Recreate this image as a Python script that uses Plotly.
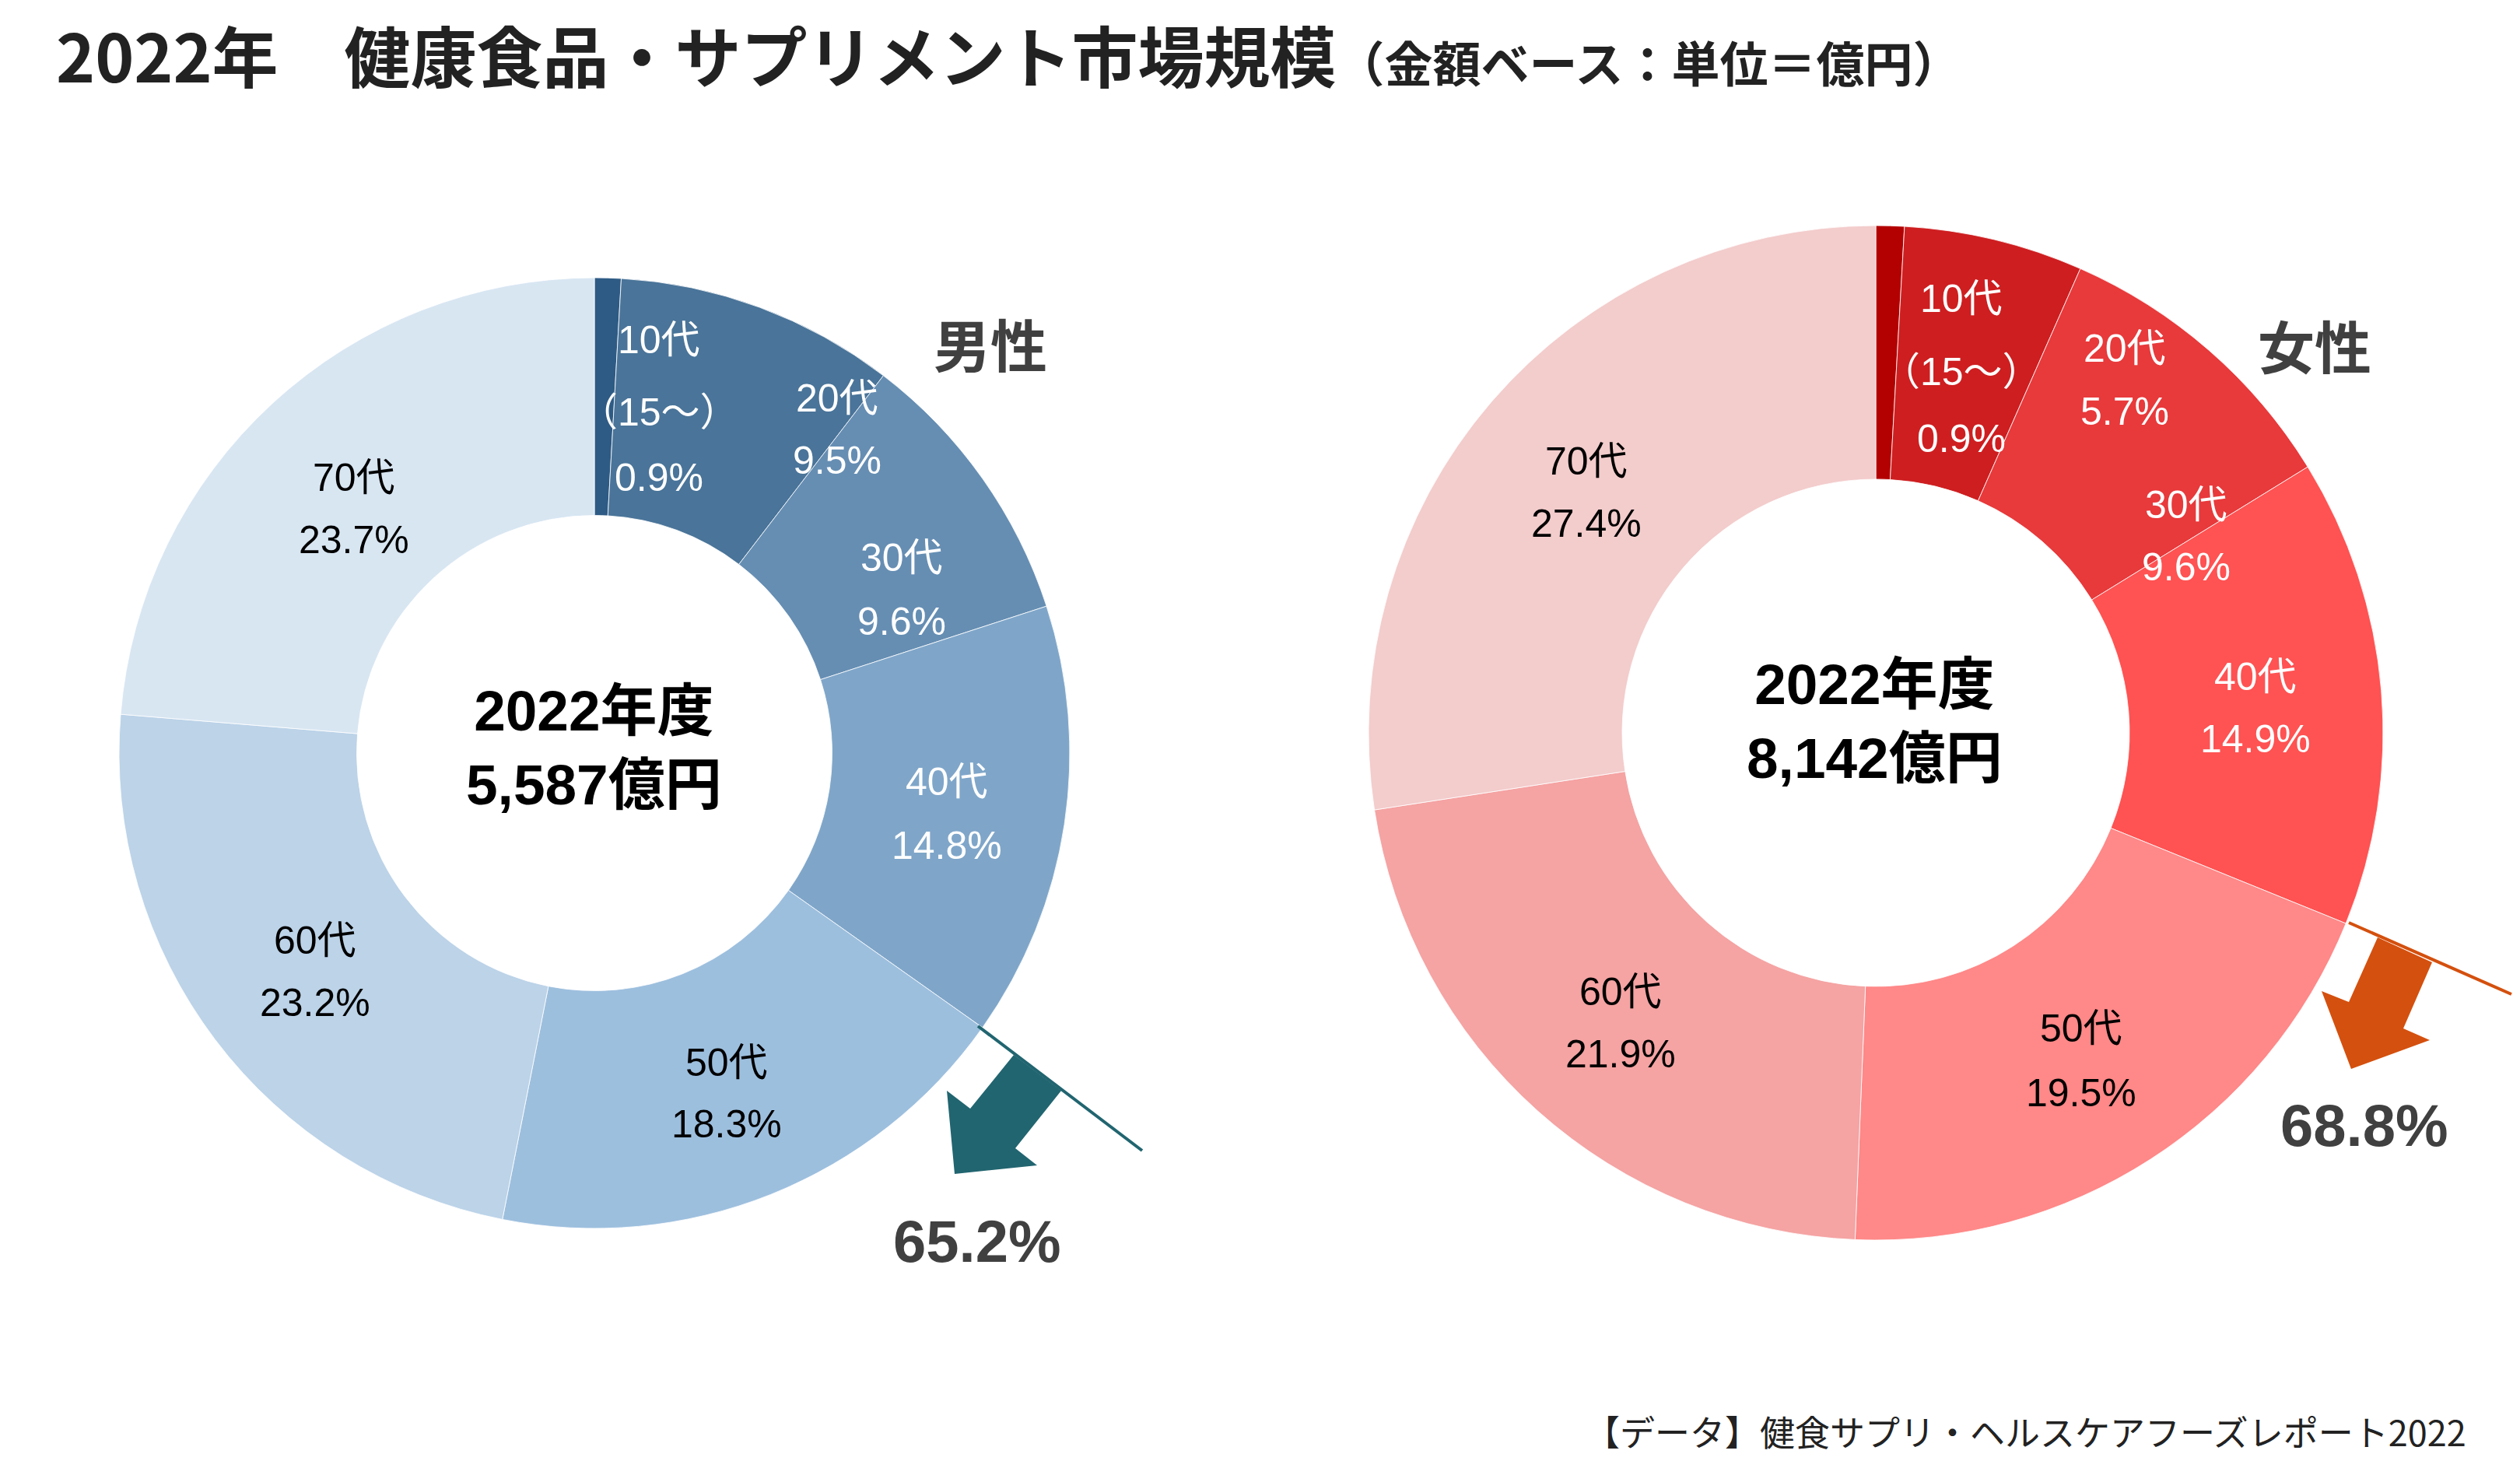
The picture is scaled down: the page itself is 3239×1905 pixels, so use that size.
import plotly.graph_objects as go

W, H = 3239, 1905

# ---- data ----
age_groups = ["10代", "20代", "30代", "40代", "50代", "60代", "70代"]
male_share = [0.9, 9.5, 9.6, 14.8, 18.3, 23.2, 23.7]
female_share = [0.9, 5.7, 9.6, 14.9, 19.5, 21.9, 27.4]
male_total = "5,587億円"
female_total = "8,142億円"
male_50plus = "65.2%"
female_50plus = "68.8%"
year_label = "2022年度"

male_colors = ["#2E5B85", "#4A7499", "#668EB3", "#7FA6C9", "#9DBFDE", "#BCD3E8", "#D8E6F2"]
female_colors = ["#B30000", "#CE1E20", "#E8393B", "#FF5252", "#FF8888", "#F5A3A3", "#F3CCCC"]
label_text_colors = ["white", "white", "white", "white", "black", "black", "black"]


def px(x):
    return x / W


def py(y):
    return 1 - y / H


LBL_FONT = "'Liberation Sans', Arial, 'Noto Sans CJK JP'"
CJK_BOLD = "'Noto Sans CJK JP'"

fig = go.Figure()

# male donut: centre (764, 968), radius 611
fig.add_trace(go.Pie(
    labels=age_groups, values=male_share, sort=False, direction="clockwise",
    rotation=0, hole=0.5, textinfo="none", hoverinfo="none",
    marker=dict(colors=male_colors, line=dict(color="white", width=0.8)),
    domain=dict(x=[px(764 - 611), px(764 + 611)], y=[py(968 + 611), py(968 - 611)]),
    showlegend=False,
))
# female donut: centre (2411, 942), radius 652
fig.add_trace(go.Pie(
    labels=age_groups, values=female_share, sort=False, direction="clockwise",
    rotation=0, hole=0.5, textinfo="none", hoverinfo="none",
    marker=dict(colors=female_colors, line=dict(color="white", width=0.8)),
    domain=dict(x=[px(2411 - 652), px(2411 + 652)], y=[py(942 + 652), py(942 - 652)]),
    showlegend=False,
))

ann = []


def text(x, y, s, size, color="black", family=LBL_FONT, xanchor="center", bold=False):
    if bold:
        s = "<b>" + s + "</b>"
    ann.append(dict(x=px(x), y=py(y), xref="paper", yref="paper", text=s, showarrow=False,
                    xanchor=xanchor, yanchor="middle",
                    font=dict(size=size, color=color, family=family)))


# label positions (pixel) for each age group: (x, y of first line, y of second line)
male_pos = [(847, 437, 614), (1076, 512, 592), (1159, 717, 799), (1217, 1005, 1087),
            (934, 1366, 1445), (405, 1209, 1289), (455, 614, 694)]
female_pos = [(2521, 384, 564), (2731, 448, 529), (2810, 649, 729), (2899, 870, 950),
              (2675, 1322, 1405), (2083, 1275, 1355), (2039, 593, 673)]

for positions, shares in ((male_pos, male_share), (female_pos, female_share)):
    for i, (g, v) in enumerate(zip(age_groups, shares)):
        x, y1, y2 = positions[i]
        c = label_text_colors[i]
        text(x, y1, g, 50, c)
        if i == 0:
            text(x, (y1 + y2) / 2 + 4, "（15〜）", 50, c)
        text(x, y2, f"{v}%", 50, c)

# centre totals
text(763, 961, year_label + "<br>" + male_total, 73, "black", LBL_FONT, bold=True)
text(2409, 927, year_label + "<br>" + female_total, 73, "black", LBL_FONT, bold=True)

# gender labels
text(1273, 440, "男性", 73, "#404040", CJK_BOLD, bold=True)
text(2975, 442, "女性", 73, "#404040", CJK_BOLD, bold=True)

# 50+ share
text(1256, 1595, male_50plus, 76, "#404040", LBL_FONT, bold=True)
text(3039, 1446, female_50plus, 76, "#404040", LBL_FONT, bold=True)

# title
ann.append(dict(x=px(70), y=py(68), xref="paper", yref="paper", showarrow=False,
                xanchor="left", yanchor="middle",
                text="<b>2022年　健康食品・サプリメント市場規模<span style='font-size:62px'>（金額ベース：単位＝億円）</span></b>",
                font=dict(size=85, color="#222222", family=CJK_BOLD)))
# source
ann.append(dict(x=px(3172), y=py(1839), xref="paper", yref="paper", showarrow=False,
                xanchor="right", yanchor="middle",
                text="【データ】健食サプリ・ヘルスケアフーズレポート2022",
                font=dict(size=45, color="#222222", family=CJK_BOLD)))


def path(points):
    s = "M " + " L ".join(f"{px(x):.5f},{py(y):.5f}" for x, y in points) + " Z"
    return s


shapes = [
    dict(type="line", xref="paper", yref="paper", x0=px(1257), y0=py(1319), x1=px(1468), y1=py(1479),
         line=dict(color="#216570", width=4)),
    dict(type="path", xref="paper", yref="paper",
         path=path([(1303, 1356), (1364, 1402), (1305, 1476), (1333, 1498), (1227, 1509), (1217, 1402), (1247, 1425)]),
         fillcolor="#216570", line=dict(width=0)),
    dict(type="line", xref="paper", yref="paper", x0=px(3019), y0=py(1186), x1=px(3228), y1=py(1278),
         line=dict(color="#D4500E", width=4)),
    dict(type="path", xref="paper", yref="paper",
         path=path([(3056, 1205), (3126, 1237), (3089, 1322), (3123, 1337), (3022, 1374), (2984, 1274), (3019, 1288)]),
         fillcolor="#D4500E", line=dict(width=0)),
]

fig.update_layout(
    width=W, height=H, margin=dict(l=0, r=0, t=0, b=0),
    paper_bgcolor="white", plot_bgcolor="white",
    annotations=ann, shapes=shapes, showlegend=False,
)

fig.write_html("out.html")
